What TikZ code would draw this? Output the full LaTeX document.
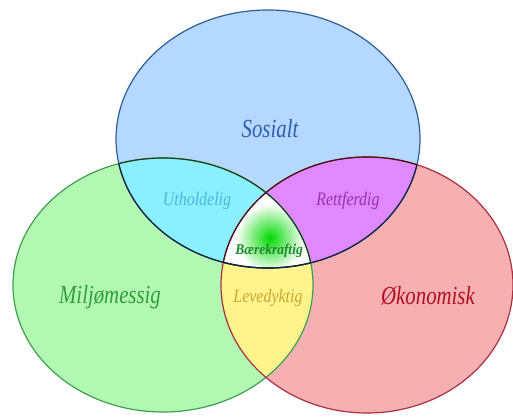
\documentclass[tikz,border=0pt]{standalone}
\usepackage{fontspec}
\setmainfont{Liberation Serif}[ItalicFont={Liberation Serif Italic},BoldItalicFont={Liberation Serif Bold Italic}]
\begin{document}
\begin{tikzpicture}[x=1pt,y=-1pt,
  lbl/.style={inner sep=0pt, anchor=base},
  bigl/.style={lbl, xscale=0.8, font=\rmfamily\itshape\fontsize{26}{28}\selectfont},
  midl/.style={lbl, xscale=0.84, font=\rmfamily\itshape\fontsize{19}{21}\selectfont},
  rim/.style={line width=1.2pt}]
\useasboundingbox (0,0) rectangle (513,417);
\definecolor{sfill}{HTML}{B4D8FF}
\definecolor{mfill}{HTML}{B2F7B2}
\definecolor{ofill}{HTML}{F7B0B2}
\definecolor{smfill}{HTML}{8AF0FF}
\definecolor{sofill}{HTML}{E088FF}
\definecolor{mofill}{HTML}{FFF38C}
\definecolor{sline}{HTML}{2F5D9A}
\definecolor{mline}{HTML}{3FA04F}
\definecolor{oline}{HTML}{A83040}
\definecolor{tsos}{HTML}{2E5FA8}
\definecolor{tmil}{HTML}{2EA03A}
\definecolor{toko}{HTML}{B01020}
\definecolor{tuth}{HTML}{4AB8D8}
\definecolor{tret}{HTML}{9A30B0}
\definecolor{tbae}{HTML}{1E8A2E}
\definecolor{tlev}{HTML}{C8A830}
\def\Sell{(268,139) ellipse [x radius=152, y radius=129]}
\def\Mell{(163,285) ellipse [x radius=150, y radius=127]}
\def\Oell{(367,285) ellipse [x radius=146, y radius=128]}
% base fills
\fill[sfill] \Sell;
\fill[mfill] \Mell;
\fill[ofill] \Oell;
% pairwise overlaps
\begin{scope}\clip \Sell; \fill[smfill] \Mell; \end{scope}
\begin{scope}\clip \Sell; \fill[sofill] \Oell; \end{scope}
\begin{scope}\clip \Mell; \fill[mofill] \Oell; \end{scope}
% centre
\begin{scope}\clip \Sell; \clip \Mell; \clip \Oell;
  \fill[white] (150,180) rectangle (400,300);
  \shade[inner color=green!85!black, outer color=white] (270,238) circle [radius=34];
\end{scope}
% outlines
\draw[rim, sline] \Sell;
\draw[rim, mline] \Mell;
\draw[rim, oline] \Oell;
\begin{scope}\clip \Mell; \draw[rim, black!60!sline] \Sell; \end{scope}
\begin{scope}\clip \Oell; \draw[rim, black!60!sline] \Sell; \end{scope}
\begin{scope}\clip \Sell; \draw[rim, black!60!mline] \Mell; \draw[rim, black!60!oline] \Oell; \end{scope}
% labels
\node[bigl, text=tsos] (sos) at (270,137) {Sosialt};
\node[bigl, text=tmil] (mil) at (110,303) {Miljømessig};
\node[bigl, text=toko] (oko) at (428,304) {Økonomisk};
\node[midl, text=tuth] (uth) at (197,205) {Utholdelig};
\node[midl, text=tret] (ret) at (348,205) {Rettferdig};
\node[lbl, xscale=0.9, font=\rmfamily\bfseries\itshape\fontsize{15}{17}\selectfont, text=tbae] (bae) at (269,254) {Bærekraftig};
\node[midl, text=tlev] (lev) at (268,302) {Levedyktig};
\end{tikzpicture}
\end{document}
